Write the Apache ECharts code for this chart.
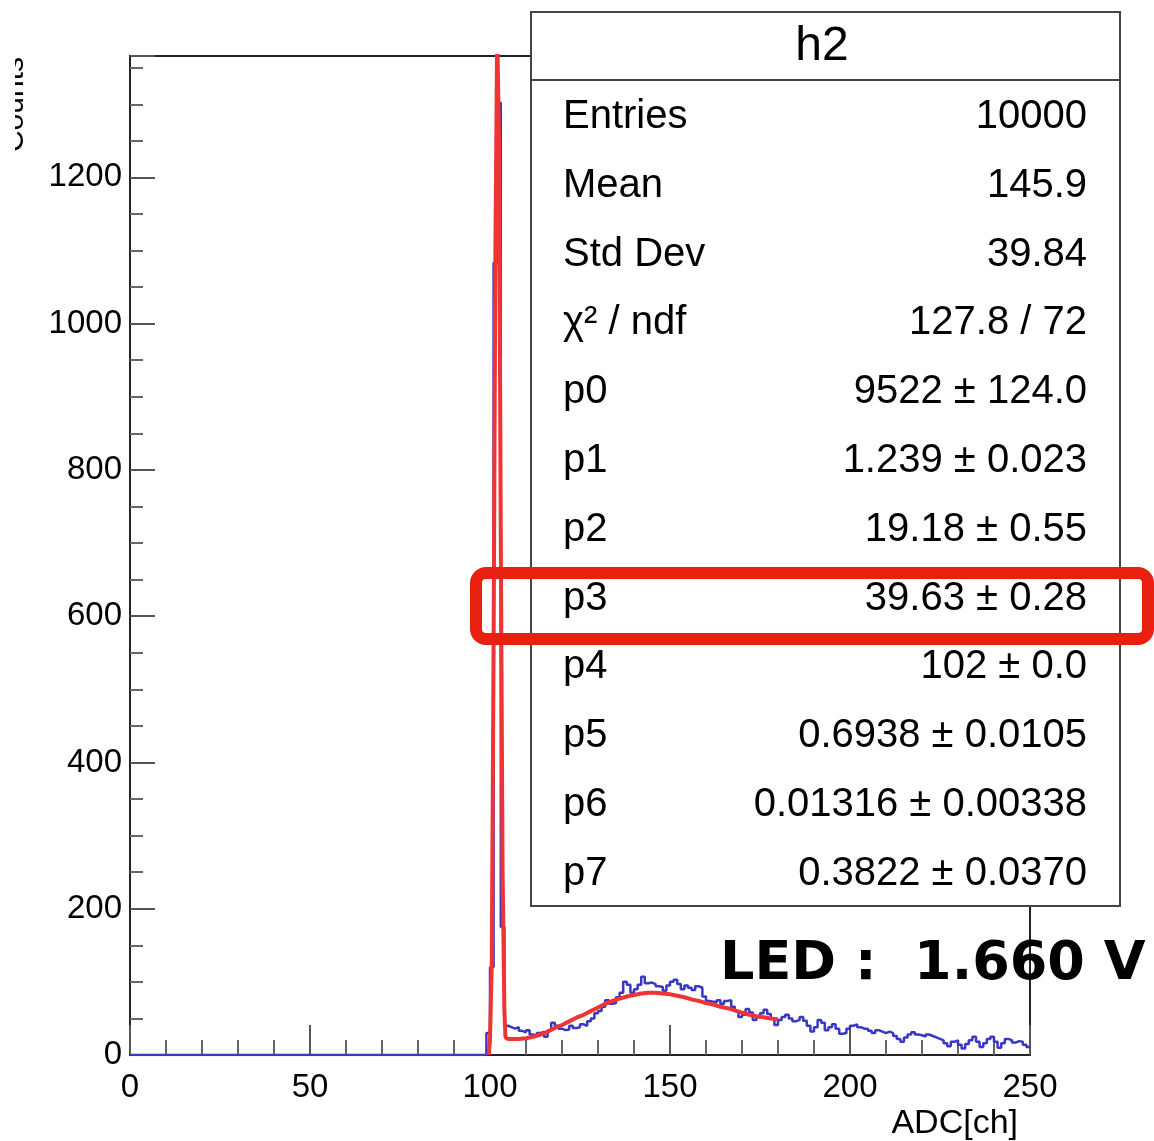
<!DOCTYPE html>
<html lang="en">
<head>
    <meta charset="UTF-8">
    <title>h2</title>
    <script type="text/javascript" src="https://cdn.jsdelivr.net/npm/echarts@6/dist/echarts.min.js"></script>
    <style>
        html, body { margin: 0; padding: 0; background: #fff; }
    </style>
</head>
<body>
<div id="chart" style="width: 1154px;height: 1141px"></div>
</body>
</html>
<script type="text/javascript">
    // histogram bins: lower edge = binStart + i * binWidth
    var binStart = 0;
    var binWidth = 1;
    var counts = [
        0, 0, 0, 0, 0, 0, 0, 0, 0, 0, 0, 0, 0, 0, 0, 0, 0, 0, 0, 0,
        0, 0, 0, 0, 0, 0, 0, 0, 0, 0, 0, 0, 0, 0, 0, 0, 0, 0, 0, 0,
        0, 0, 0, 0, 0, 0, 0, 0, 0, 0, 0, 0, 0, 0, 0, 0, 0, 0, 0, 0,
        0, 0, 0, 0, 0, 0, 0, 0, 0, 0, 0, 0, 0, 0, 0, 0, 0, 0, 0, 0,
        0, 0, 0, 0, 0, 0, 0, 0, 0, 0, 0, 0, 0, 0, 0, 0, 0, 0, 0, 30,
        120, 1083, 1302, 175, 40, 38, 36, 38, 33, 31, 34, 28, 26, 30, 32, 25, 33, 44, 40, 36,
        34, 35, 40, 37, 38, 42, 40, 46, 50, 57, 60, 66, 75, 70, 71, 79, 85, 100, 96, 85,
        90, 96, 107, 98, 99, 97, 94, 93, 88, 95, 100, 103, 97, 90, 95, 92, 89, 94, 92, 80,
        74, 73, 72, 75, 70, 74, 75, 66, 60, 52, 55, 63, 58, 48, 52, 57, 62, 56, 50, 41,
        48, 52, 55, 50, 46, 48, 52, 47, 40, 32, 38, 48, 44, 34, 38, 42, 36, 29, 30, 36,
        40, 42, 38, 36, 36, 33, 30, 34, 32, 30, 32, 30, 26, 22, 18, 24, 28, 31, 28, 27,
        25, 28, 26, 24, 22, 20, 16, 12, 18, 20, 14, 9, 15, 20, 25, 18, 11, 16, 22, 25,
        18, 10, 16, 22, 20, 17, 19, 18, 14, 11
    ];

    // fit curve
    var fitX = [99.6, 100.0, 100.5, 101.0, 101.5, 102.0, 102.5, 103.0, 103.5, 104.0,
        104.3, 105, 106, 108,
        110, 112, 114, 116, 118, 120, 122, 124, 126, 128,
        130, 132, 134, 136, 138, 140, 142, 144, 146, 148,
        150, 152, 154, 156, 158, 160, 162, 164, 166, 168,
        170, 172, 174, 176, 178, 180];
    var fitY = [0, 20, 130, 560, 1100, 1400, 1250, 700, 250, 60,
        24, 22, 22, 22,
        23, 25, 28, 32, 37, 41, 46, 51, 55, 60,
        65, 70, 74, 77, 80, 82, 84, 85, 85, 84,
        83, 81, 79, 76, 74, 71, 69, 66, 64, 61,
        58, 55, 53, 51.5, 50, 49];

    // stats box
    var statTitle = 'h2';
    var statLabels = ['Entries', 'Mean', 'Std Dev', 'χ² / ndf', 'p0', 'p1', 'p2', 'p3', 'p4', 'p5', 'p6', 'p7'];
    var statValues = ['10000', '145.9', '39.84', '127.8 / 72', '9522 ± 124.0', '1.239 ± 0.023',
        '19.18 ± 0.55', '39.63 ± 0.28', '102 ± 0.0', '0.6938 ± 0.0105', '0.01316 ± 0.00338', '0.3822 ± 0.0370'];

    var xTitle = 'ADC[ch]';
    var yTitle = 'Counts';
    var note = 'LED :  1.660 V';

    var font = 'Liberation Sans, Arial, sans-serif';

    var histData = counts.map(function (c, i) {
        return [binStart + i * binWidth, c];
    });
    histData.push([binStart + counts.length * binWidth, counts[counts.length - 1]]);

    var fitData = fitX.map(function (x, i) {
        return [x, fitY[i]];
    });

    var graphics = [];
    // y title, partly cut at the left edge
    graphics.push({
        type: 'text', x: 30, y: 57, rotation: Math.PI / 2, z: 50,
        style: {text: yTitle, font: '30px ' + font, fill: '#000', align: 'right', verticalAlign: 'bottom'}
    });
    graphics.push({
        type: 'rect', shape: {x: 0, y: 40, width: 15, height: 140}, z: 51,
        style: {fill: '#fff'}
    });
    graphics.push({
        type: 'text', x: 1018, y: 1124, z: 50,
        style: {text: xTitle, font: '34px ' + font, fill: '#000', align: 'right', verticalAlign: 'middle'}
    });

    // stats box
    graphics.push({
        type: 'rect', shape: {x: 531, y: 12, width: 589, height: 894}, z: 100,
        style: {fill: '#fff', stroke: '#444', lineWidth: 2}
    });
    graphics.push({
        type: 'line', shape: {x1: 531, y1: 80, x2: 1120, y2: 80}, z: 101,
        style: {stroke: '#444', lineWidth: 2}
    });
    graphics.push({
        type: 'text', x: 822, y: 47, z: 101,
        style: {text: statTitle, font: '48px ' + font, fill: '#000', align: 'center', verticalAlign: 'middle'}
    });
    for (var i = 0; i < statLabels.length; i++) {
        var ry = 117 + i * 68.8;
        graphics.push({
            type: 'text', x: 563, y: ry, z: 101,
            style: {text: statLabels[i], font: '40px ' + font, fill: '#000', align: 'left', verticalAlign: 'middle'}
        });
        graphics.push({
            type: 'text', x: 1087, y: ry, z: 101,
            style: {text: statValues[i], font: '40px ' + font, fill: '#000', align: 'right', verticalAlign: 'middle'}
        });
    }

    // hand drawn mark around p3
    graphics.push({
        type: 'rect', shape: {x: 476, y: 573, width: 672, height: 66, r: 10}, z: 110,
        style: {fill: 'none', stroke: '#e8200f', lineWidth: 12}
    });
    graphics.push({
        type: 'text', x: 720, y: 965, z: 110,
        style: {text: note, font: 'bold 54px DejaVu Sans, sans-serif', fill: '#000', align: 'left', verticalAlign: 'middle'}
    });

    var myChart = echarts.init(document.getElementById('chart'));
    var option = {
        animation: false,
        backgroundColor: '#fff',
        grid: {
            left: 130, right: 124, top: 56, bottom: 86,
            show: true, borderColor: '#222', borderWidth: 2, backgroundColor: 'transparent'
        },
        xAxis: {
            type: 'value', min: 0, max: 250, interval: 50,
            axisLine: {lineStyle: {color: '#222', width: 2}},
            axisTick: {inside: true, length: 30, lineStyle: {color: '#555', width: 2}},
            minorTick: {show: true, splitNumber: 5, length: 15, lineStyle: {color: '#666', width: 2}},
            splitLine: {show: false},
            axisLabel: {fontFamily: font, fontSize: 33, color: '#000', margin: 16}
        },
        yAxis: {
            type: 'value', min: 0, max: 1366, interval: 200,
            axisLine: {lineStyle: {color: '#222', width: 2}},
            axisTick: {inside: true, length: 25, lineStyle: {color: '#555', width: 2}},
            minorTick: {show: true, splitNumber: 4, length: 13, lineStyle: {color: '#666', width: 2}},
            splitLine: {show: false},
            axisLabel: {
                fontFamily: font, fontSize: 33, color: '#000', margin: 8, showMaxLabel: false,
                formatter: function (v) { return String(v); }
            }
        },
        series: [
            {
                name: 'h2', type: 'line', step: 'end', data: histData,
                symbol: 'none', clip: true,
                lineStyle: {color: '#3838c4', width: 2.5}
            },
            {
                name: 'fit', type: 'line', data: fitData,
                symbol: 'none', clip: true, smooth: false,
                lineStyle: {color: '#f03434', width: 4}
            }
        ],
        graphic: graphics
    };
    myChart.setOption(option);
</script>
